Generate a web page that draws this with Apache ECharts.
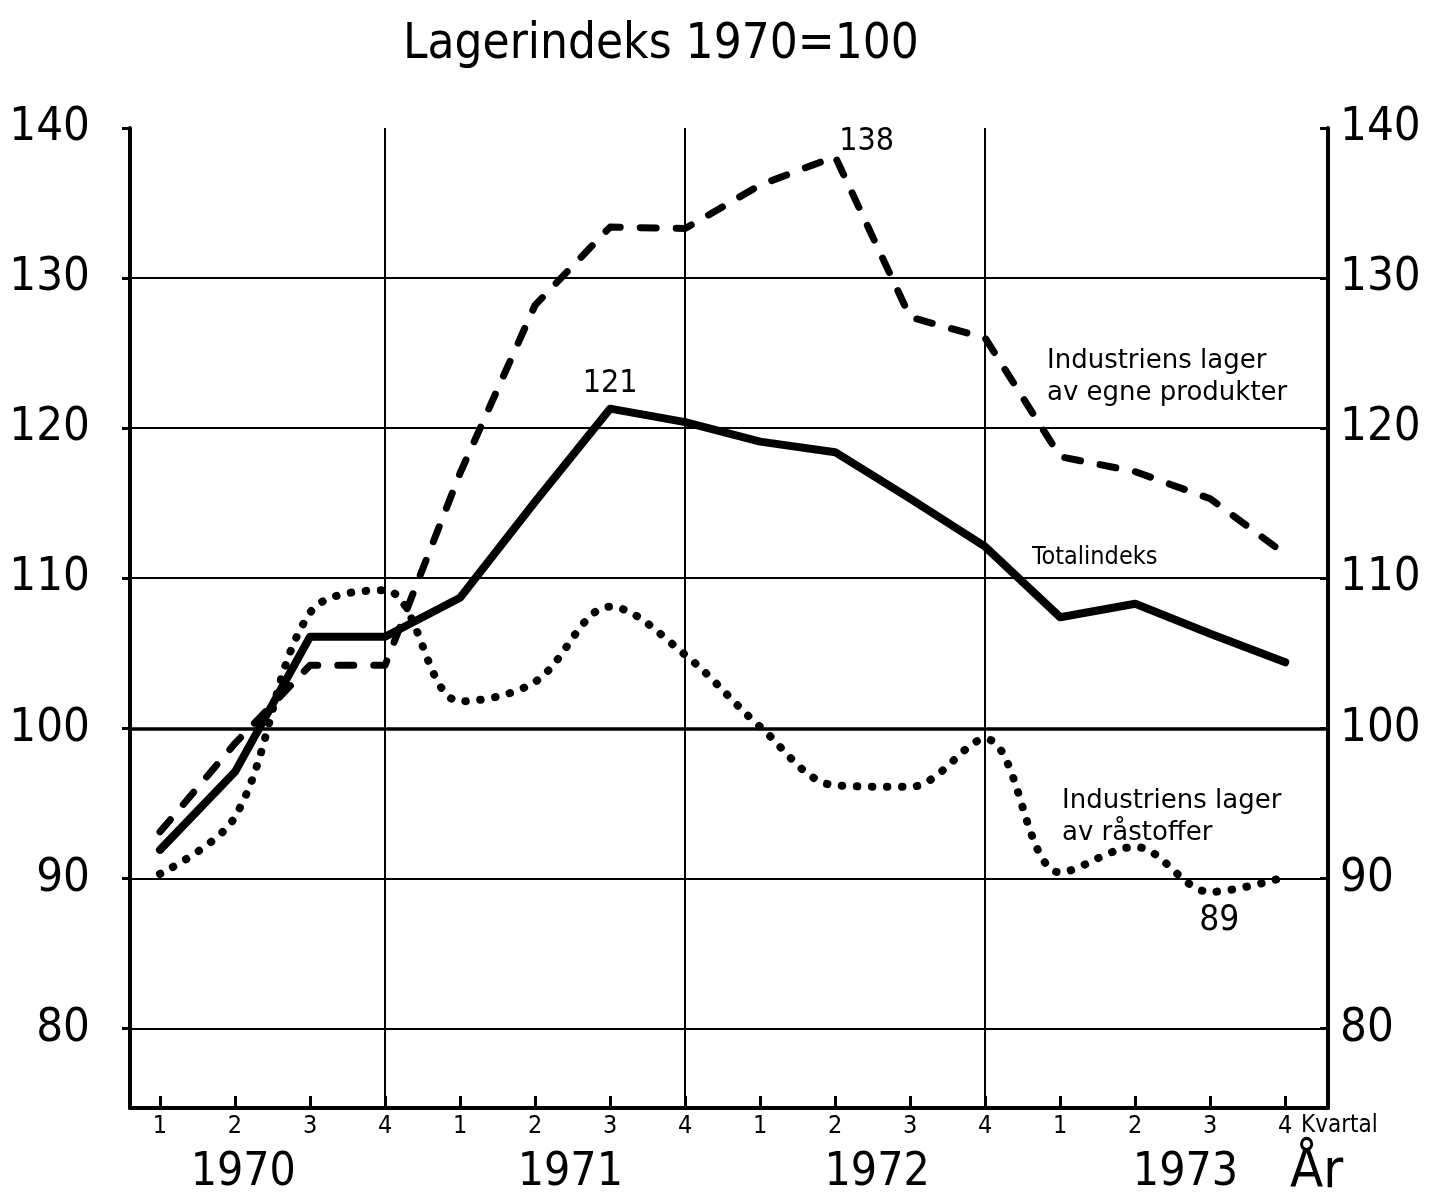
<!DOCTYPE html>
<html>
<head>
<meta charset="utf-8">
<title>Lagerindeks 1970=100</title>
<script src="https://cdn.jsdelivr.net/npm/echarts@6/dist/echarts.min.js"></script>
<style>
  html, body { margin: 0; padding: 0; background: #fff; }
  #chart { width: 1454px; height: 1204px; }
</style>
</head>
<body>
<div id="chart"></div>
<script>
// quarters 1970 Q1 .. 1973 Q4
const quarterLabels = ['1','2','3','4','1','2','3','4','1','2','3','4','1','2','3','4'];
const years = ['1970', '1971', '1972', '1973'];
const yearPos = [1.11, 5.47, 9.56, 13.67];
const yTicks = [80, 90, 100, 110, 120, 130, 140];
const gridValues = [80, 90, 100, 110, 120, 130];
const yearBounds = [3, 7, 11];

// Totalindeks
const total = [91.9, 97.1, 106.1, 106.1, 108.7, 115.1, 121.3, 120.4, 119.1, 118.4, 115.3, 112.1, 107.4, 108.3, 106.3, 104.4];
// Industriens lager av egne produkter
const egne = [93.1, 99.0, 104.2, 104.2, 117.0, 128.2, 133.4, 133.3, 136.2, 138.1, 127.4, 126.0, 118.1, 117.1, 115.3, 111.6];
// Industriens lager av råstoffer
const raa = [90.3, 94.1, 107.7, 109.2, 101.8, 103.1, 108.1, 104.9, 100.1, 96.2, 96.1, 99.3, 90.4, 92.1, 89.1, 90.1];

const narrow = "'Liberation Sans Narrow', 'DejaVu Sans Condensed', sans-serif";
const plain = "'DejaVu Sans', sans-serif";

function toData(arr, labels) {
  return arr.map((v, i) => {
    const item = { value: [i, v] };
    if (labels[i]) item.label = Object.assign({ show: true }, labels[i]);
    return item;
  });
}

const chart = echarts.init(document.getElementById('chart'));

const option = {
  animation: false,
  backgroundColor: '#fff',
  title: [
    { text: 'Lagerindeks 1970=100', left: 398, top: 16,
      textStyle: { fontFamily: narrow, fontSize: 49, fontWeight: 'normal', color: '#000' } },
    { text: 'Industriens lager\nav egne produkter', left: 1042, top: 340,
      textStyle: { fontFamily: plain, fontSize: 26, fontWeight: 'normal', color: '#000', lineHeight: 32 } },
    { text: 'Totalindeks', left: 1027, top: 540,
      textStyle: { fontFamily: narrow, fontSize: 25, fontWeight: 'normal', color: '#000' } },
    { text: 'Industriens lager\nav råstoffer', left: 1057, top: 780,
      textStyle: { fontFamily: plain, fontSize: 26, fontWeight: 'normal', color: '#000', lineHeight: 32 } }
  ],
  grid: { left: 130, right: 126, top: 128, bottom: 96 },
  xAxis: [
    {
      type: 'value', min: -0.4, max: 15.57,
      axisLine: { lineStyle: { color: '#000', width: 4 } },
      axisTick: { customValues: quarterLabels.map((q, i) => i), inside: true, length: 12,
        lineStyle: { color: '#000', width: 3 } },
      axisLabel: { customValues: quarterLabels.map((q, i) => i), margin: 6,
        formatter: v => quarterLabels[Math.round(v)],
        fontFamily: narrow, fontSize: 25, color: '#000' },
      splitLine: { show: false },
      name: 'Kvartal', nameLocation: 'end', nameGap: -27,
      nameTextStyle: { fontFamily: narrow, fontSize: 24, color: '#000', align: 'left',
        verticalAlign: 'top', padding: [6, 0, 0, 0] }
    },
    {
      type: 'value', min: -0.4, max: 15.57, position: 'bottom', offset: 34,
      axisLine: { show: false }, axisTick: { show: false },
      axisLabel: { customValues: yearPos, margin: 8,
        formatter: v => years[yearPos.findIndex(p => Math.abs(p - v) < 1e-6)] || '',
        fontFamily: narrow, fontSize: 46, color: '#000' },
      splitLine: { show: false },
      name: 'År', nameLocation: 'end', nameGap: -38,
      nameTextStyle: { fontFamily: narrow, fontSize: 54, color: '#000', align: 'left',
        verticalAlign: 'top', padding: [4, 0, 0, 0] }
    }
  ],
  yAxis: [
    {
      type: 'value', min: 74.7, max: 140, position: 'left',
      axisLine: { show: true, onZero: false, lineStyle: { color: '#000', width: 4 } },
      axisTick: { show: true, customValues: yTicks, length: 8, lineStyle: { color: '#000', width: 3 } },
      axisLabel: { customValues: yTicks, margin: 40, fontFamily: narrow, fontSize: 47, color: '#000' },
      splitLine: { show: false }
    },
    {
      type: 'value', min: 74.7, max: 140, position: 'right',
      axisLine: { show: true, onZero: false, lineStyle: { color: '#000', width: 4 } },
      axisTick: { show: true, customValues: yTicks, inside: true, length: 8, lineStyle: { color: '#000', width: 3 } },
      axisLabel: { customValues: yTicks, margin: 12, fontFamily: narrow, fontSize: 47, color: '#000' },
      splitLine: { show: false }
    }
  ],
  series: [
    {
      // grid lines
      type: 'line', data: [], silent: true, z: 1,
      markLine: {
        silent: true, symbol: 'none', label: { show: false },
        lineStyle: { color: '#000', type: 'solid', width: 2 },
        data: gridValues.map(v => ({ yAxis: v, lineStyle: { width: v === 100 ? 3.5 : 2 } }))
          .concat(yearBounds.map(x => ({ xAxis: x, lineStyle: { width: 2 } })))
      }
    },
    {
      name: 'Totalindeks', type: 'line', z: 5,
      data: toData(total, { 6: { position: 'top', distance: 9, formatter: '121' } }),
      symbol: 'circle', symbolSize: 0, showSymbol: true,
      lineStyle: { color: '#000', width: 8, join: 'round', cap: 'round' },
      label: { fontFamily: narrow, fontSize: 32, color: '#000' }
    },
    {
      name: 'Industriens lager av egne produkter', type: 'line', z: 4,
      data: toData(egne, { 9: { position: 'right', distance: 4, offset: [0, -15], formatter: '138' } }),
      symbol: 'circle', symbolSize: 0, showSymbol: true,
      lineStyle: { color: '#000', width: 7, type: [16, 20], cap: 'round', join: 'round' },
      label: { fontFamily: narrow, fontSize: 32, color: '#000' }
    },
    {
      name: 'Industriens lager av råstoffer', type: 'line', z: 3, smooth: 0.35,
      data: toData(raa, { 14: { position: 'bottom', distance: 12, offset: [9, 0], formatter: '89' } }),
      symbol: 'circle', symbolSize: 0, showSymbol: true,
      lineStyle: { color: '#000', width: 8, type: [0.5, 14.5], cap: 'round' },
      label: { fontFamily: narrow, fontSize: 35, color: '#000' }
    }
  ]
};

chart.setOption(option);
</script>
</body>
</html>
